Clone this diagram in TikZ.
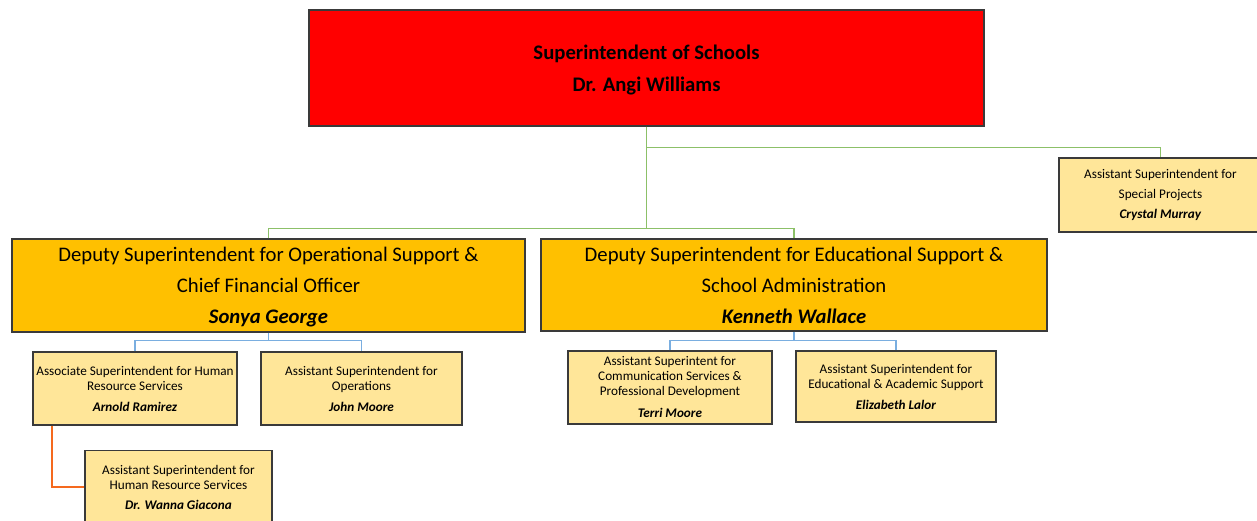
\documentclass[tikz,border=0pt]{standalone}
\usepackage{fontspec}
\setmainfont{Carlito}
\usetikzlibrary{calc}
\definecolor{topred}{HTML}{FF0000}
\definecolor{gold}{HTML}{FFC000}
\definecolor{paleyellow}{HTML}{FFE699}
\definecolor{boxline}{HTML}{3A3A3A}
\definecolor{greenline}{HTML}{8CC068}
\definecolor{blueline}{HTML}{7AAEE0}
\definecolor{hrorange}{HTML}{F5691E}
\tikzset{
  box/.style={draw=boxline, line width=1.3pt, inner sep=0pt, align=center, text=black},
  headbox/.style={box, fill=topred, font=\fontsize{20.7}{32}\selectfont\bfseries},
  deputybox/.style={box, fill=gold, font=\fontsize{20.7}{31}\selectfont},
  staffbox/.style={box, fill=paleyellow, font=\fontsize{13.2}{15}\selectfont},
  greenlink/.style={draw=greenline, line width=1.1pt},
  bluelink/.style={draw=blueline, line width=1.1pt},
  orangelink/.style={draw=hrorange, line width=1.6pt},
}
\newcommand{\who}[1]{\textbf{\textit{#1}}}
\begin{document}
\begin{tikzpicture}[x=1pt, y=-1pt]
\useasboundingbox (0,0) rectangle (1257,521);
\clip (0,0) rectangle (1257,521);

% head of the district
\node[headbox, minimum width=675pt, minimum height=116pt] (sup) at (646.5,68)
  {Superintendent of Schools\\\smash{Dr. Angi Williams}};

% staff position reporting directly to the head
\node[staffbox, minimum width=203pt, minimum height=74pt, font=\fontsize{13.2}{20}\selectfont] (spec) at (1160.5,195)
  {Assistant Superintendent for\\Special Projects\\\who{Crystal Murray}};

% deputies
\node[deputybox, minimum width=513pt, minimum height=93pt] (dep1) at (268.5,285.5)
  {Deputy Superintendent for Operational Support \&\\Chief Financial Officer\\\smash{\who{Sonya George}}};
\node[deputybox, minimum width=506pt, minimum height=92pt] (dep2) at (794,285)
  {Deputy Superintendent for Educational Support \&\\School Administration\\\smash{\who{Kenneth Wallace}}};

% operational support branch
\node[staffbox, minimum width=204pt, minimum height=73pt] (hr) at (135,388.5)
  {Associate Superintendent for Human\\Resource Services\\[6pt]\who{Arnold Ramirez}};
\node[staffbox, minimum width=201pt, minimum height=73pt] (ops) at (361.5,388.5)
  {Assistant Superintendent for\\Operations\\[6pt]\who{John Moore}};
\node[staffbox, minimum width=187pt, minimum height=73pt] (gia) at (178.5,487)
  {Assistant Superintendent for\\Human Resource Services\\[5pt]\who{Dr. Wanna Giacona}};

% educational support branch
\node[staffbox, minimum width=204pt, minimum height=73pt] (comm) at (670,387.5)
  {Assistant Superintent for\\Communication Services \&\\Professional Development\\[7pt]\who{Terri Moore}};
\node[staffbox, minimum width=200pt, minimum height=71pt] (ed) at (896,386.5)
  {Assistant Superintendent for\\Educational \& Academic Support\\[6pt]\who{Elizabeth Lalor}};

% connectors from the head
\coordinate (gbus) at ($(sup.south)+(0,102)$);
\draw[greenlink] (sup.south) -- ++(0,21) -| (spec.north);
\draw[greenlink] (sup.south) -- (gbus);
\draw[greenlink] (dep1.north) |- (gbus) -| (dep2.north);

% connectors from the deputies
\coordinate (bbus1) at ($(dep1.south)+(0,8)$);
\coordinate (bbus2) at ($(dep2.south)+(0,9)$);
\draw[bluelink] (dep1.south) -- (bbus1);
\draw[bluelink] (hr.north) |- (bbus1) -| (ops.north);
\draw[bluelink] (dep2.south) -- (bbus2);
\draw[bluelink] (comm.north) |- (bbus2) -| (ed.north);

% human resources line
\draw[orangelink] ([xshift=19.5pt]hr.south west) |- (gia.west);
\end{tikzpicture}
\end{document}
